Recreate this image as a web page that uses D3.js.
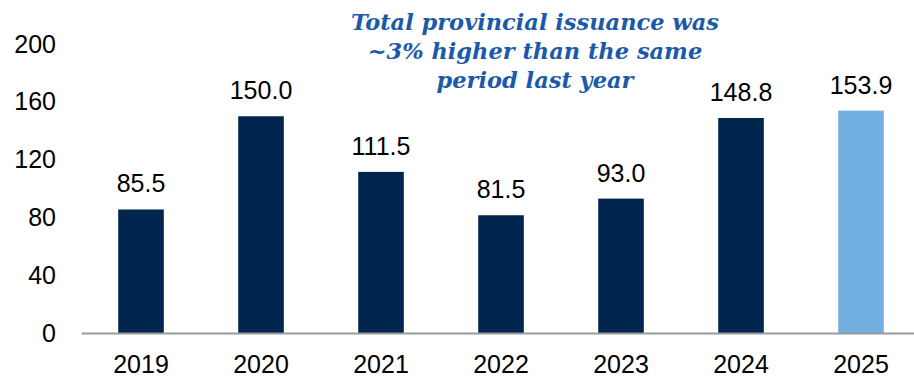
<!DOCTYPE html>
<html>
<head>
<meta charset="utf-8">
<script src="https://cdn.jsdelivr.net/npm/d3@7"></script>
<style>
  html, body { margin: 0; padding: 0; background: #fff; }
  svg { display: block; }
</style>
</head>
<body>
<svg id="chart" width="914" height="378"></svg>
<script>
// Provincial bond issuance by year
const years = ["2019", "2020", "2021", "2022", "2023", "2024", "2025"];
const issuance = [85.5, 150.0, 111.5, 81.5, 93.0, 148.8, 153.9];
const yTicks = [0, 40, 80, 120, 160, 200];
const noteLines = [
  "Total provincial issuance was",
  "~3% higher than the same",
  "period last year"
];

const svg = d3.select("#chart");
const numFont = "'Liberation Sans', Arial, sans-serif";
const numSize = 25;

const x = d3.scaleBand()
  .domain(years)
  .range([81, 921])
  .paddingInner(0.62)
  .paddingOuter(0.31);

const y = d3.scaleLinear()
  .domain([0, 200])
  .range([333, 44]);

// Y tick labels (no axis line, no ticks)
const yAxis = svg.append("g")
  .attr("transform", "translate(56,0)")
  .call(d3.axisLeft(y).tickValues(yTicks).tickSize(0).tickPadding(0).tickFormat(d3.format("d")));
yAxis.select(".domain").remove();
yAxis.selectAll("text")
  .attr("font-family", numFont)
  .attr("font-size", numSize)
  .attr("fill", "#000");

// Bars
svg.append("g").selectAll("rect")
  .data(years)
  .join("rect")
  .attr("x", d => x(d))
  .attr("width", x.bandwidth())
  .attr("y", (d, i) => y(issuance[i]))
  .attr("height", (d, i) => y(0) - y(issuance[i]))
  .attr("fill", (d, i) => i === years.length - 1 ? "#72b0e2" : "#00264f");

// Value labels
svg.append("g").selectAll("text")
  .data(years)
  .join("text")
  .attr("x", d => x(d) + x.bandwidth() / 2)
  .attr("y", (d, i) => y(issuance[i]) - 17)
  .attr("text-anchor", "middle")
  .attr("font-family", numFont)
  .attr("font-size", numSize)
  .attr("fill", "#000")
  .text((d, i) => d3.format(".1f")(issuance[i]));

// X axis baseline and year labels
const xAxis = svg.append("g")
  .attr("transform", `translate(0,${y(0)})`)
  .call(d3.axisBottom(x).tickSize(0).tickPadding(0));
xAxis.select(".domain")
  .attr("stroke", "#9a9a9a")
  .attr("stroke-width", 2);
xAxis.selectAll("text")
  .attr("font-family", numFont)
  .attr("font-size", numSize)
  .attr("fill", "#000")
  .attr("dy", null)
  .attr("y", 40);

// Annotation
svg.append("text")
  .attr("x", 535)
  .attr("y", 30)
  .attr("text-anchor", "middle")
  .attr("font-family", "'DejaVu Serif', Georgia, serif")
  .attr("font-style", "italic")
  .attr("font-weight", "bold")
  .attr("font-size", 22.5)
  .attr("fill", "#1b5aaa")
  .selectAll("tspan")
  .data(noteLines)
  .join("tspan")
  .attr("x", 535)
  .attr("dy", (d, i) => i === 0 ? 0 : 29)
  .text(d => d);
</script>
</body>
</html>
